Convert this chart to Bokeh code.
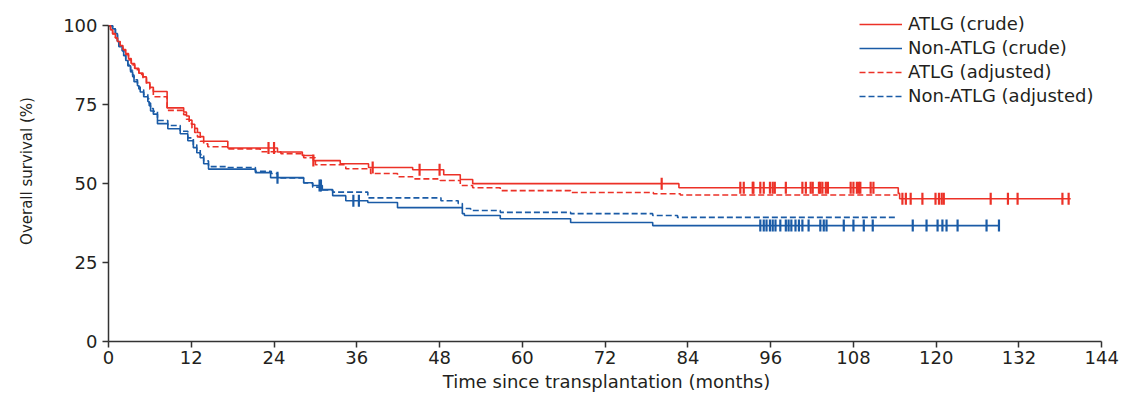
import numpy as np
from bokeh.plotting import figure
from bokeh.models import Range1d, FixedTicker, Legend, LegendItem
from bokeh.embed import file_html
from bokeh.resources import INLINE

# Kaplan-Meier estimates: event times (months) and survival (%) after each step
atlg_crude_t = [0.3, 0.6, 1.0, 1.3, 1.7, 2.1, 2.5, 2.9, 3.3, 3.8, 4.4, 5.0, 5.5, 6.0, 6.5,
                8.5, 10.9, 11.3, 11.7, 12.1, 12.5, 12.9, 13.3, 13.8, 17.3, 24.5, 28.1,
                29.7, 33.6, 37.7, 44.1, 48.6, 51.0, 52.8, 82.7, 114.5, 114.7]
atlg_crude_s = [98.7, 97.5, 96.2, 95.0, 93.7, 92.5, 91.2, 89.6, 88.0, 86.5, 85.0, 83.8, 82.0, 80.5, 79.2,
                74.0, 72.7, 71.4, 70.1, 68.8, 67.5, 66.2, 64.9, 63.4, 61.3, 60.0, 58.9,
                57.3, 56.3, 55.1, 54.4, 52.8, 51.3, 50.0, 48.7, 46.9, 45.2]
atlg_crude_end = 139.5
atlg_crude_cens = [23.2, 24.0, 29.7, 38.3, 45.1, 48.0, 80.2,
                   91.6, 92.1, 93.4, 93.5, 94.5, 95.0, 95.9, 96.3, 96.6, 98.2, 100.6, 101.1,
                   101.8, 102.1, 103.0, 103.2, 103.5, 104.0, 104.3, 107.6, 108.0, 108.5,
                   108.8, 109.0, 110.5, 110.9,
                   115.1, 115.6, 116.3, 118.0, 119.9, 120.4, 120.8, 121.1, 127.9, 130.4,
                   131.8, 138.3, 139.2]

non_crude_t = [0.6, 1.0, 1.3, 1.5, 2.0, 2.2, 2.5, 2.8, 3.2, 3.5, 3.7, 4.2, 4.4, 4.6, 5.1,
               5.7, 5.9, 6.1, 6.5, 7.1, 8.6, 10.4, 11.5, 12.3, 12.8, 13.3, 13.8, 14.5,
               21.3, 23.5, 28.3, 29.6, 31.0, 32.5, 34.4, 37.6, 41.9, 51.3, 51.6, 56.8,
               67.0, 78.9]
non_crude_s = [99.0, 97.5, 95.0, 93.4, 92.0, 90.5, 89.0, 87.3, 85.4, 83.9, 82.3, 81.0, 80.0, 79.0, 77.5,
               76.0, 74.7, 73.0, 72.0, 69.0, 67.4, 65.8, 63.6, 61.4, 59.8, 58.2, 56.3, 54.6,
               53.5, 51.9, 50.3, 49.4, 48.1, 46.2, 44.6, 44.0, 42.4, 40.5, 39.9, 38.9,
               37.7, 36.7]
non_crude_end = 129.2
non_crude_cens = [24.5, 30.6, 30.8, 35.5, 36.3,
                  94.5, 95.0, 95.4, 95.9, 96.3, 96.7, 97.4, 98.2, 98.6, 99.0, 99.6, 100.1,
                  100.6, 101.5, 103.2, 103.7, 104.1, 106.6, 108.0, 109.5, 110.8,
                  116.6, 118.6, 120.2, 120.9, 121.5, 123.1, 127.3, 129.1]

atlg_adj_t = [0.3, 0.6, 1.0, 1.3, 1.7, 2.1, 2.5, 2.9, 3.3, 3.8, 4.4, 5.0, 5.5, 6.0, 6.5,
              8.5, 10.9, 11.3, 11.7, 12.1, 12.5, 12.9, 13.3, 13.8, 14.4, 17.3, 22.0,
              25.0, 28.3, 30.0, 34.4, 38.0, 41.9, 44.1, 48.1, 51.0, 52.8, 56.8, 67.0,
              79.0, 82.9]
atlg_adj_s = [98.6, 97.4, 96.1, 94.8, 93.5, 92.2, 90.8, 89.2, 87.6, 86.1, 84.6, 83.3, 81.5, 79.9, 77.5,
              73.2, 71.8, 70.4, 69.0, 67.6, 66.2, 64.8, 63.4, 62.6, 61.7, 61.0, 60.1,
              59.5, 58.2, 56.0, 54.7, 53.2, 52.2, 51.5, 51.0, 49.4, 48.7, 47.8, 47.2,
              46.8, 46.4]
atlg_adj_end = 114.4

non_adj_t = [0.6, 1.0, 1.3, 1.5, 2.0, 2.2, 2.5, 2.8, 3.2, 3.5, 3.7, 4.2, 4.4, 4.6, 5.1,
             5.7, 5.9, 6.1, 6.5, 7.1, 8.6, 10.4, 11.5, 12.3, 12.8, 13.3, 13.8, 14.5,
             17.3, 21.3, 23.6, 24.5, 28.3, 29.6, 31.0, 32.5, 37.6, 48.2, 50.7, 51.3,
             52.5, 56.8, 67.0, 78.9, 82.5]
non_adj_s = [99.0, 97.6, 95.2, 93.6, 92.2, 90.8, 89.3, 87.7, 85.9, 84.4, 82.9, 81.6, 80.6, 79.7, 78.2,
             76.8, 75.5, 73.8, 72.9, 70.0, 68.4, 66.6, 64.5, 62.3, 60.7, 59.2, 57.2, 55.4,
             55.1, 53.9, 53.2, 51.8, 50.2, 48.9, 48.0, 47.3, 45.5, 44.6, 43.7, 42.1,
             41.5, 40.9, 40.5, 39.9, 39.3]
non_adj_end = 114.4

x_ticks = [0, 12, 24, 36, 48, 60, 72, 84, 96, 108, 120, 132, 144]
y_ticks = [0, 25, 50, 75, 100]

RED = "#ec3127"
BLUE = "#1a5ba6"
TEXT = "#231f20"
FONT = "DejaVu Sans"


def km_path(t, s, end):
    xs = [0.0] + list(t) + [end]
    ys = [100.0] + list(s) + [s[-1]]
    return xs, ys


def km_at(t, s, times):
    t = np.asarray(t)
    s = np.asarray(s)
    idx = np.searchsorted(t, np.asarray(times), side="right") - 1
    return np.where(idx < 0, 100.0, s[np.clip(idx, 0, None)])


p = figure(width=1122, height=396, output_backend="svg", toolbar_location=None,
           x_range=Range1d(0, 144.4), y_range=Range1d(0, 108),
           min_border_left=108, min_border_right=18, min_border_top=0, min_border_bottom=55)
p.outline_line_color = None
p.xgrid.visible = False
p.ygrid.visible = False
p.background_fill_color = "white"
p.border_fill_color = "white"

curves = [
    ("ATLG (crude)", atlg_crude_t, atlg_crude_s, atlg_crude_end, RED, "solid"),
    ("Non-ATLG (crude)", non_crude_t, non_crude_s, non_crude_end, BLUE, "solid"),
    ("ATLG (adjusted)", atlg_adj_t, atlg_adj_s, atlg_adj_end, RED, "6 3"),
    ("Non-ATLG (adjusted)", non_adj_t, non_adj_s, non_adj_end, BLUE, "6 3"),
]

renderers = {}
for name, t, s, end, col, dash in reversed(curves):
    xs, ys = km_path(t, s, end)
    renderers[name] = p.step(xs, ys, mode="after", line_color=col, line_width=1.6,
                             line_dash=dash)

# censoring marks on the crude curves
for t, s, cens, col in [(atlg_crude_t, atlg_crude_s, atlg_crude_cens, RED),
                        (non_crude_t, non_crude_s, non_crude_cens, BLUE)]:
    p.scatter(cens, km_at(t, s, cens), marker="dash", angle=np.pi / 2, size=12,
              line_color=col, line_width=2.2)

legend = Legend(items=[LegendItem(label=name, renderers=[renderers[name]])
                       for name, *_ in curves],
                location=(751, 235), orientation="vertical")
legend.glyph_width = 43
legend.glyph_height = 20
legend.label_height = 20
legend.label_standoff = 6
legend.spacing = 3
legend.padding = 0
legend.margin = 0
legend.border_line_color = None
legend.background_fill_alpha = 0
legend.label_text_font = FONT
legend.label_text_font_size = "18px"
legend.label_text_color = TEXT
p.add_layout(legend)

for ax in (p.xaxis[0], p.yaxis[0]):
    ax.axis_line_color = "#333333"
    ax.axis_line_width = 1.5
    ax.major_tick_line_color = "#333333"
    ax.major_tick_line_width = 1.5
    ax.major_tick_out = 6
    ax.major_tick_in = 0
    ax.minor_tick_out = 0
    ax.minor_tick_in = 0
    ax.major_label_text_font = FONT
    ax.major_label_text_font_size = "18px"
    ax.major_label_text_color = TEXT
    ax.axis_label_text_font = FONT
    ax.axis_label_text_font_style = "normal"
    ax.axis_label_text_color = TEXT

p.xaxis.ticker = FixedTicker(ticks=x_ticks)
p.yaxis.ticker = FixedTicker(ticks=y_ticks)
p.xaxis.bounds = (0, 144)
p.yaxis.bounds = (0, 100)
p.xaxis.axis_label = "Time since transplantation (months)"
p.xaxis.axis_label_text_font_size = "18px"
p.xaxis.axis_label_standoff = 4
p.xaxis.major_label_standoff = 3
p.yaxis.axis_label = "Overall survival (%)"
p.yaxis.axis_label_text_font_size = "15px"
p.yaxis.axis_label_standoff = 24
p.yaxis.major_label_standoff = 5

open("out.html", "w").write(file_html(p, INLINE))
